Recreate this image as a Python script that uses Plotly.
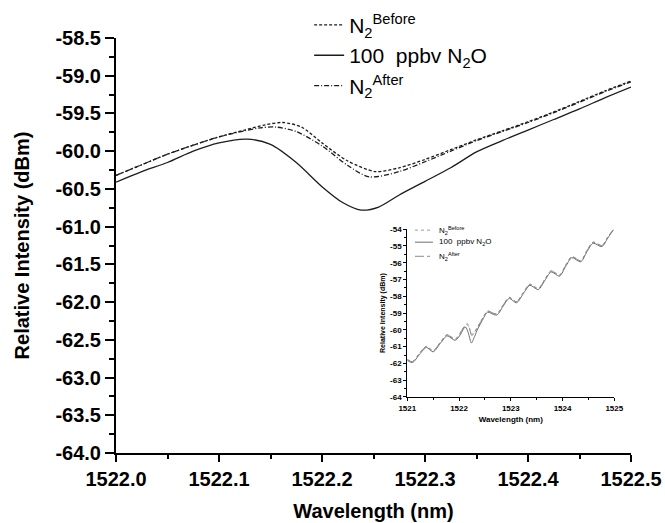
import plotly.graph_objects as go

# ---------------- main chart data ----------------
x_solid = [1522.000, 1522.025, 1522.050, 1522.075, 1522.100, 1522.127, 1522.150, 1522.175,
           1522.200, 1522.220, 1522.238, 1522.255, 1522.275, 1522.300, 1522.325, 1522.350,
           1522.375, 1522.400, 1522.425, 1522.450, 1522.475, 1522.500]
y_solid = [-60.41, -60.27, -60.15, -60.00, -59.89, -59.84, -59.91, -60.15,
           -60.47, -60.68, -60.78, -60.74, -60.58, -60.40, -60.22, -60.01,
           -59.86, -59.72, -59.58, -59.44, -59.29, -59.15]

x_before = [1522.000, 1522.025, 1522.050, 1522.075, 1522.100, 1522.125, 1522.145, 1522.162,
            1522.180, 1522.200, 1522.225, 1522.252, 1522.275, 1522.300, 1522.325, 1522.350,
            1522.375, 1522.400, 1522.425, 1522.450, 1522.475, 1522.500]
y_before = [-60.32, -60.18, -60.04, -59.92, -59.81, -59.72, -59.65, -59.62,
            -59.68, -59.89, -60.13, -60.27, -60.22, -60.11, -59.98, -59.85,
            -59.73, -59.61, -59.48, -59.34, -59.20, -59.07]

x_after = [1522.000, 1522.025, 1522.050, 1522.075, 1522.100, 1522.125, 1522.140, 1522.155,
           1522.175, 1522.200, 1522.225, 1522.246, 1522.275, 1522.300, 1522.325, 1522.350,
           1522.375, 1522.400, 1522.425, 1522.450, 1522.475, 1522.500]
y_after = [-60.32, -60.18, -60.04, -59.92, -59.81, -59.73, -59.69, -59.68,
           -59.74, -59.93, -60.19, -60.34, -60.27, -60.14, -60.00, -59.86,
           -59.74, -59.62, -59.49, -59.35, -59.21, -59.08]

y_tickvals = [-64.0, -63.5, -63.0, -62.5, -62.0, -61.5, -61.0, -60.5, -60.0, -59.5, -59.0, -58.5]
y_ticktext = ["-64.0", "-63.5", "-63.0", "-62.5", "-62.0", "-61.5", "-61.0", "-60.5",
              "-60.0", "-59.5", "-59.0", "-58.5"]

# ---------------- inset data ----------------
xi_solid = [1521.00, 1521.10, 1521.24, 1521.37, 1521.50, 1521.64, 1521.77, 1521.92, 1522.00,
            1522.05, 1522.10, 1522.13, 1522.18, 1522.24, 1522.30, 1522.36, 1522.42, 1522.48,
            1522.55, 1522.73, 1522.85, 1522.97, 1523.11, 1523.24, 1523.37, 1523.53, 1523.66,
            1523.78, 1523.94, 1524.06, 1524.18, 1524.35, 1524.47, 1524.59, 1524.76, 1524.87,
            1524.98]
yi_solid = [-61.82, -61.95, -61.45, -61.05, -61.31, -60.80, -60.36, -60.62, -60.41,
            -60.15, -59.88, -59.84, -60.20, -60.78, -60.40, -59.95, -59.60, -59.26,
            -58.95, -59.12, -58.60, -58.13, -58.39, -57.85, -57.35, -57.60, -57.05,
            -56.55, -56.80, -56.22, -55.70, -55.95, -55.35, -54.84, -55.04, -54.55,
            -54.05]

xi_before = [1521.00, 1521.10, 1521.24, 1521.37, 1521.50, 1521.64, 1521.77, 1521.92, 1522.00,
             1522.05, 1522.10, 1522.16, 1522.20, 1522.25, 1522.30, 1522.36, 1522.42, 1522.48,
             1522.55, 1522.73, 1522.85, 1522.97, 1523.11, 1523.24, 1523.37, 1523.53, 1523.66,
             1523.78, 1523.94, 1524.06, 1524.18, 1524.35, 1524.47, 1524.59, 1524.76, 1524.87,
             1524.98]
yi_before = [-61.76, -61.89, -61.38, -60.98, -61.24, -60.73, -60.29, -60.55, -60.32,
             -60.04, -59.81, -59.62, -59.89, -60.27, -60.12, -59.82, -59.50, -59.18,
             -58.88, -59.05, -58.53, -58.06, -58.32, -57.78, -57.28, -57.53, -56.98,
             -56.48, -56.73, -56.15, -55.63, -55.88, -55.28, -54.77, -54.97, -54.48,
             -54.02]

xi_after = [1521.00, 1521.10, 1521.24, 1521.37, 1521.50, 1521.64, 1521.77, 1521.92, 1522.00,
            1522.05, 1522.10, 1522.155, 1522.20, 1522.246, 1522.30, 1522.36, 1522.42, 1522.48,
            1522.55, 1522.73, 1522.85, 1522.97, 1523.11, 1523.24, 1523.37, 1523.53, 1523.66,
            1523.78, 1523.94, 1524.06, 1524.18, 1524.35, 1524.47, 1524.59, 1524.76, 1524.87,
            1524.98]
yi_after = [-61.77, -61.90, -61.39, -60.99, -61.25, -60.74, -60.30, -60.56, -60.32,
            -60.04, -59.81, -59.68, -59.93, -60.34, -60.14, -59.83, -59.51, -59.19,
            -58.89, -59.06, -58.54, -58.07, -58.33, -57.79, -57.29, -57.54, -56.99,
            -56.49, -56.74, -56.16, -55.64, -55.89, -55.29, -54.78, -54.98, -54.49,
            -54.03]

yi_tickvals = [-64, -63, -62, -61, -60, -59, -58, -57, -56, -55, -54]
yi_ticktext = ["-64", "-63", "-62", "-61", "-60", "-59", "-58", "-57", "-56", "-55", "-54"]
xi_tickvals = [1521, 1522, 1523, 1524, 1525]
xi_ticktext = ["1521", "1522", "1523", "1524", "1525"]

series_names = ["N<sub>2</sub><sup>Before</sup>", "100  ppbv N<sub>2</sub>O", "N<sub>2</sub><sup>After</sup>"]

FONT = "Liberation Sans, Arial, Helvetica, sans-serif"
INK = "#1c1c1c"
INSET_COLORS = ["#9a9a9a", "#6e6e6e", "#8a8a8a"]
INSET_DASH = ["dot", "solid", "dashdot"]

fig = go.Figure()

# main traces
fig.add_trace(go.Scatter(x=x_before, y=y_before, mode="lines", name=series_names[0],
                         line=dict(color=INK, width=1.3, dash="3px,2px", shape="spline", smoothing=0.8)))
fig.add_trace(go.Scatter(x=x_solid, y=y_solid, mode="lines", name=series_names[1],
                         line=dict(color=INK, width=1.3, shape="spline", smoothing=0.8)))
fig.add_trace(go.Scatter(x=x_after, y=y_after, mode="lines", name=series_names[2],
                         line=dict(color=INK, width=1.3, dash="5px,2px,1px,2px", shape="spline", smoothing=0.8)))

# inset traces
for xs, ys, nm, col, dsh in zip([xi_before, xi_solid, xi_after], [yi_before, yi_solid, yi_after],
                                series_names, INSET_COLORS, INSET_DASH):
    fig.add_trace(go.Scatter(x=xs, y=ys, mode="lines", name=nm, xaxis="x2", yaxis="y2",
                             showlegend=False,
                             line=dict(color=col, width=1, dash=dsh, shape="spline", smoothing=0.8)))

# inset legend (small key drawn in paper coordinates)
key_y = [0.537, 0.508, 0.474]
for ky, nm, col, dsh in zip(key_y, series_names, INSET_COLORS, INSET_DASH):
    fig.add_shape(type="line", xref="paper", yref="paper", x0=0.5806, x1=0.6155, y0=ky, y1=ky,
                  line=dict(color=col, width=1, dash=dsh))
    fig.add_annotation(xref="paper", yref="paper", x=0.624, y=ky, xanchor="left", yanchor="middle",
                       text=nm, showarrow=False, font=dict(size=8, family=FONT, color="black"))

fig.update_layout(
    width=665, height=523,
    margin=dict(l=116, r=34, t=38, b=70, autoexpand=False),
    paper_bgcolor="white", plot_bgcolor="white",
    font=dict(family=FONT, color="black"),
    showlegend=True,
    legend=dict(x=0.375, y=1.08, xanchor="left", yanchor="top",
                bgcolor="rgba(0,0,0,0)", font=dict(size=21, family=FONT, color="black"),
                tracegroupgap=0, itemwidth=30),
    xaxis=dict(domain=[0, 1], range=[1522.0, 1522.5], showline=True, linecolor="black", linewidth=2,
               ticks="outside", ticklen=7, tickwidth=2, tickcolor="black", dtick=0.1, tick0=1522.0,
               tickformat=".1f", showgrid=False, zeroline=False,
               tickfont=dict(size=20, family=FONT, weight="bold"),
               minor=dict(ticks="outside", ticklen=4, tickwidth=1.5, dtick=0.05, tickcolor="black", showgrid=False),
               title=dict(text="Wavelength (nm)", font=dict(size=20, family=FONT, weight="bold"), standoff=15)),
    yaxis=dict(domain=[0, 1], range=[-64.0, -58.5], showline=True, linecolor="black", linewidth=2,
               ticks="outside", ticklen=9, tickwidth=2, tickcolor="black",
               tickvals=y_tickvals, ticktext=y_ticktext, showgrid=False, zeroline=False,
               tickfont=dict(size=20, family=FONT, weight="bold"),
               minor=dict(ticks="outside", ticklen=5, tickwidth=1.5, dtick=0.25, tick0=-64, tickcolor="black", showgrid=False),
               title=dict(text="Relative Intensity (dBm)", font=dict(size=20, family=FONT, weight="bold"), standoff=20)),
    xaxis2=dict(domain=[0.5656, 0.9676], anchor="y2", range=[1521, 1525], showline=True, linecolor="black",
                linewidth=1, ticks="outside", ticklen=3, tickwidth=1, tickcolor="black",
                tickvals=xi_tickvals, ticktext=xi_ticktext, showgrid=False, zeroline=False,
                tickfont=dict(size=8, family=FONT, weight="bold"),
                minor=dict(ticks="outside", ticklen=2, tickwidth=1, dtick=0.5, tick0=1521, tickcolor="black", showgrid=False),
                title=dict(text="Wavelength (nm)", font=dict(size=8, family=FONT, weight="bold"), standoff=4)),
    yaxis2=dict(domain=[0.135, 0.5394], anchor="x2", range=[-64, -54], showline=True, linecolor="black",
                linewidth=1, ticks="outside", ticklen=3, tickwidth=1, tickcolor="black",
                tickvals=yi_tickvals, ticktext=yi_ticktext, showgrid=False, zeroline=False,
                tickfont=dict(size=8, family=FONT, weight="bold"),
                minor=dict(ticks="outside", ticklen=2, tickwidth=1, dtick=0.5, tick0=-64, tickcolor="black", showgrid=False),
                title=dict(text="Relative Intensity (dBm)", font=dict(size=7, family=FONT, weight="bold"), standoff=3)),
)

# remove the browser's default 8px body margin so the 665x523 figure fills the window exactly
fig.write_html("out.html", config={"displayModeBar": False},
               post_script="document.body.style.margin='0';document.body.style.overflow='hidden';")
